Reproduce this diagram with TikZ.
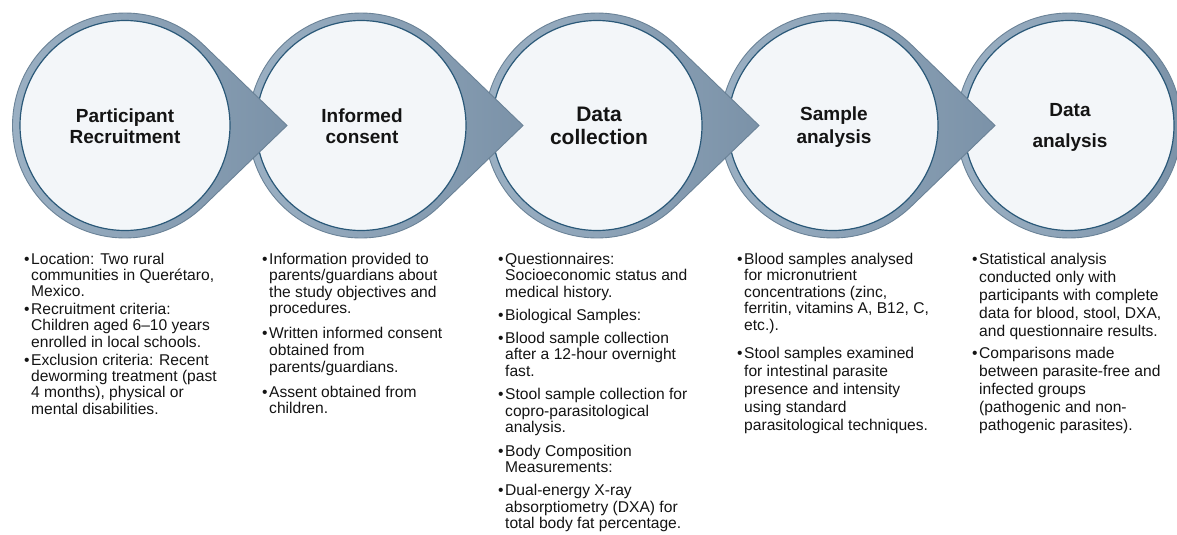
\documentclass[tikz,border=0pt]{standalone}
\usepackage{fontspec}
\setmainfont{Liberation Sans}
\usetikzlibrary{calc}
\definecolor{ringfill}{HTML}{8FA5BA}
\definecolor{ringlight}{HTML}{9CB1C4}
\definecolor{ringdark}{HTML}{7B92A8}
\definecolor{ringedge}{HTML}{6A8297}
\definecolor{innerline}{HTML}{2A5878}
\definecolor{innerfill}{HTML}{F3F6F9}
\definecolor{txt}{HTML}{141414}
\newcommand\bl{\makebox[7pt][l]{\textbullet}}
\newcommand\stage[1]{%
  \path[draw=ringedge,line width=0.9pt,left color=ringlight,right color=ringdark]
    ($(#1)+(162,0)$) -- ($(#1)+(46:112.5)$) arc[start angle=46,end angle=314,radius=112.5] -- cycle;
  \path[fill=innerfill,draw=innerline,line width=1.2pt] (#1) circle[radius=105];
}
\begin{document}
\begin{tikzpicture}[x=1pt,y=-1pt,
  ttl/.style={font=\fontsize{19}{21}\selectfont\bfseries,text=txt,inner sep=0pt,anchor=base},
  ttlbig/.style={font=\fontsize{21}{23}\selectfont\bfseries,text=txt,inner sep=0pt,anchor=base},
  col/.style={font=\fontsize{15.6}{#1}\selectfont,text=txt,inner sep=0pt,anchor=base west}]
\useasboundingbox[fill=white] (0,0) rectangle (1177,535);
\coordinate (s1) at (125,125.5);
\coordinate (s2) at (361,125.5);
\coordinate (s3) at (597,125.5);
\coordinate (s4) at (833,125.5);
\coordinate (s5) at (1069,125.5);
% circle 5 (no arrow)
\path[draw=ringedge,line width=0.9pt,left color=ringlight,right color=ringdark] (s5) circle[radius=112.5];
\path[fill=innerfill,draw=innerline,line width=1.2pt] (s5) circle[radius=105];
\stage{s4}
\stage{s3}
\stage{s2}
\stage{s1}
% titles
\node[ttl] (t1a) at (125,122) {Participant};
\node[ttl] (t1b) at (125,143) {Recruitment};
\node[ttl] (t2a) at (362,122) {Informed};
\node[ttl] (t2b) at (362,143) {consent};
\node[ttlbig] (t3a) at (599,121) {Data};
\node[ttlbig] (t3b) at (599,144) {collection};
\node[ttl] (t4a) at (834,120) {Sample};
\node[ttl] (t4b) at (834,143) {analysis};
\node[ttl] (t5a) at (1070,116.5) {Data};
\node[ttl] (t5b) at (1070,147) {analysis};
% bullet columns
\node[col=16.3] (c1) at (24,264) {\begin{tabular}[t]{@{}l@{}l@{}}
\bl & Location: Two rural\\
 & communities in Querétaro,\\
 & Mexico.\\[1.7pt]
\bl & Recruitment criteria:\\
 & Children aged 6–10 years\\
 & enrolled in local schools.\\[1.7pt]
\bl & Exclusion criteria: Recent\\
 & deworming treatment (past\\
 & 4 months), physical or\\
 & mental disabilities.
\end{tabular}};
\node[col=16.6] (c2) at (262,264) {\begin{tabular}[t]{@{}l@{}l@{}}
\bl & Information provided to\\
 & parents/guardians about\\
 & the study objectives and\\
 & procedures.\\[8.4pt]
\bl & Written informed consent\\
 & obtained from\\
 & parents/guardians.\\[8.4pt]
\bl & Assent obtained from\\
 & children.
\end{tabular}};
\node[col=16.5] (c3) at (498,264) {\begin{tabular}[t]{@{}l@{}l@{}}
\bl & Questionnaires:\\
 & Socioeconomic status and\\
 & medical history.\\[6.5pt]
\bl & Biological Samples:\\[6.5pt]
\bl & Blood sample collection\\
 & after a 12-hour overnight\\
 & fast.\\[7pt]
\bl & Stool sample collection for\\
 & copro-parasitological\\
 & analysis.\\[7pt]
\bl & Body Composition\\
 & Measurements:\\[6.5pt]
\bl & Dual-energy X-ray\\
 & absorptiometry (DXA) for\\
 & total body fat percentage.
\end{tabular}};
\node[col=16.5] (c4) at (737,264) {\begin{tabular}[t]{@{}l@{}l@{}}
\bl & Blood samples analysed\\
 & for micronutrient\\
 & concentrations (zinc,\\
 & ferritin, vitamins A, B12, C,\\
 & etc.).\\[11.5pt]
\bl & Stool samples examined\\[1.7pt]
 & for intestinal parasite\\[1.7pt]
 & presence and intensity\\[1.7pt]
 & using standard\\[1.7pt]
 & parasitological techniques.
\end{tabular}};
\node[col=18] (c5) at (972,264) {\begin{tabular}[t]{@{}l@{}l@{}}
\bl & Statistical analysis\\
 & conducted only with\\
 & participants with complete\\
 & data for blood, stool, DXA,\\
 & and questionnaire results.\\[4pt]
\bl & Comparisons made\\
 & between parasite-free and\\
 & infected groups\\
 & (pathogenic and non-\\
 & pathogenic parasites).
\end{tabular}};
\end{tikzpicture}
\end{document}
